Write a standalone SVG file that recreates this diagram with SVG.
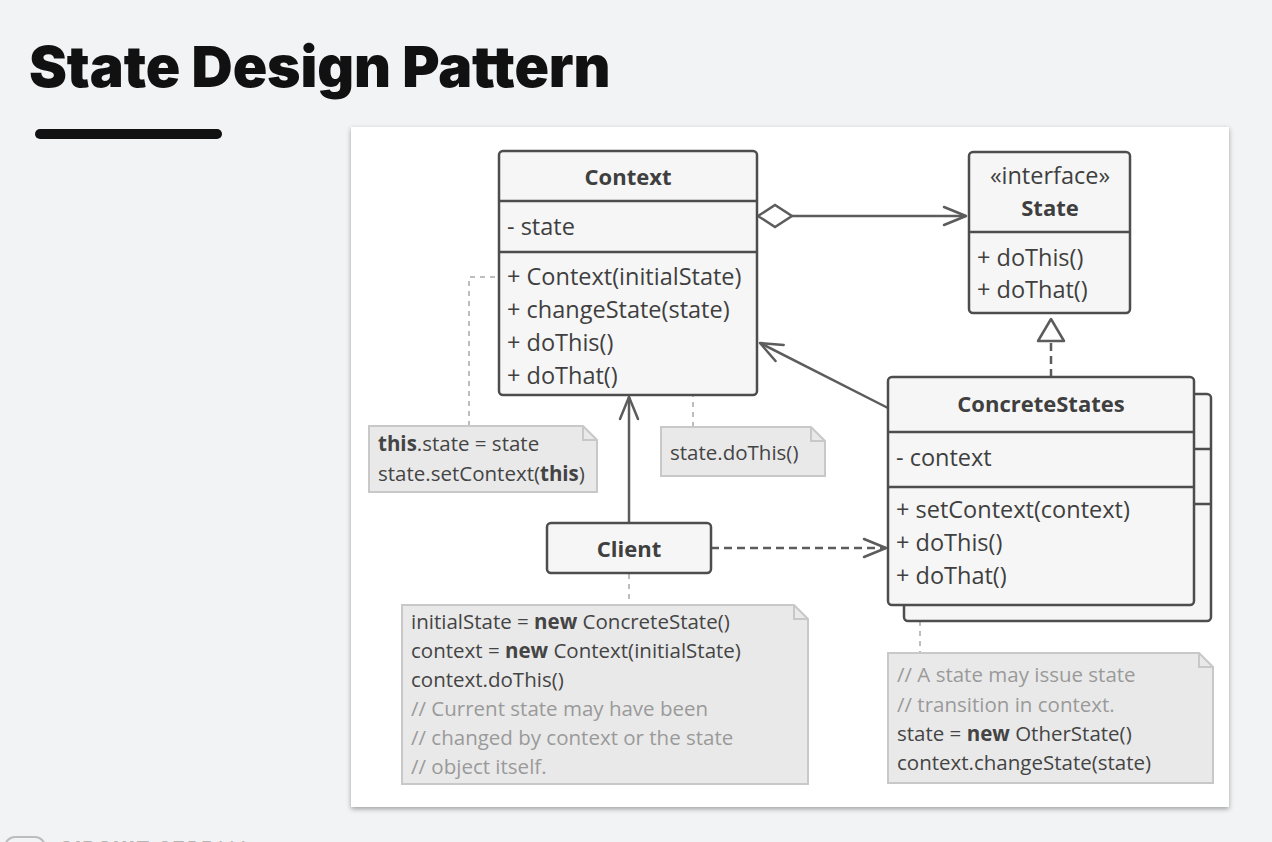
<svg xmlns="http://www.w3.org/2000/svg" width="1272" height="842" viewBox="0 0 1272 842">
<defs>
<filter id="sh" x="-5%" y="-5%" width="110%" height="110%">
<feDropShadow dx="0" dy="2" stdDeviation="2.5" flood-color="#000" flood-opacity="0.35"/>
</filter>
<marker id="open" markerUnits="userSpaceOnUse" viewBox="0 0 26 22" markerWidth="26" markerHeight="22" refX="24" refY="11" orient="auto">
<path d="M2,2 L24,11 L2,20" fill="none" stroke="#5c5c5c" stroke-width="2.5" stroke-linecap="round" stroke-linejoin="round"/>
</marker>
</defs>
<style>
.box{fill:#f6f6f6;stroke:#4d4d4d;stroke-width:2.5}
.div{stroke:#4d4d4d;stroke-width:2.5}
.t{font-family:"Open Sans","Noto Sans",sans-serif;font-size:23.5px;fill:#3f3f3f}
.b{font-weight:bold;font-size:22px}
.c{text-anchor:middle}
.note{fill:#e9e9e9;stroke:#c8c8c8;stroke-width:2}
.nt{font-family:"Open Sans","Noto Sans",sans-serif;font-size:20.5px;fill:#444}
.nb{font-weight:bold}
.cm{fill:#9a9a9a}
.conn{fill:none;stroke:#5c5c5c;stroke-width:2.5}
.dash{stroke-dasharray:8 5}
.ndash{fill:none;stroke:#bdbdbd;stroke-width:2;stroke-dasharray:5 5}
</style>
<rect width="1272" height="842" fill="#f2f3f5"/>
<text x="29" y="87" font-family="Inter,sans-serif" font-weight="900" font-size="57" letter-spacing="-0.1" fill="#111">State Design Pattern</text>
<rect x="35" y="129" width="187" height="10" rx="5" fill="#111"/>
<rect x="351" y="127" width="878" height="680" fill="#fff" filter="url(#sh)"/>
<g id="logo" fill="#b5b5b5">
<rect x="5" y="837" width="40" height="30" rx="10" fill="none" stroke="#bdbdbd" stroke-width="2"/>
<text x="59" y="855" font-family="Inter,sans-serif" font-size="19" letter-spacing="2"><tspan font-weight="800">CIRCUIT</tspan><tspan font-weight="300"> STREAM</tspan></text>
</g>

<g id="connectors">
<polygon points="758,216 775,205 792,216 775,227" fill="#fff" stroke="#5c5c5c" stroke-width="2.5"/>
<line class="conn" x1="792" y1="216" x2="966" y2="216" marker-end="url(#open)"/>
<line class="conn dash" x1="1051" y1="377" x2="1051" y2="341"/>
<polygon points="1051,319 1038,341 1064,341" fill="#fff" stroke="#5c5c5c" stroke-width="2.5" stroke-linejoin="round"/>
<line class="conn" x1="888" y1="408" x2="760" y2="343" marker-end="url(#open)"/>
<line class="conn" x1="629" y1="523" x2="629" y2="397" marker-end="url(#open)"/>
<line class="conn dash" x1="711" y1="548" x2="886" y2="548" marker-end="url(#open)"/>
<path class="ndash" d="M469,426 V277 H499"/>
<circle cx="637" cy="344" r="4" fill="none" stroke="#bdbdbd" stroke-width="2"/>
<path class="ndash" d="M641,344 H693 V427"/>
<path class="ndash" d="M629,574 V605"/>
<path class="ndash" d="M920,621 V653"/>
</g>

<g id="context">
<rect class="box" x="499" y="151" width="258" height="244" rx="4"/>
<line class="div" x1="499" y1="201" x2="757" y2="201"/>
<line class="div" x1="499" y1="252" x2="757" y2="252"/>
<text class="t b c" x="628" y="185">Context</text>
<text class="t" x="507" y="235">- state</text>
<text class="t" x="507" y="285">+ Context(initialState)</text>
<text class="t" x="507" y="318">+ changeState(state)</text>
<text class="t" x="507" y="351">+ doThis()</text>
<text class="t" x="507" y="384">+ doThat()</text>
</g>

<g id="state">
<rect class="box" x="969" y="152" width="161" height="161" rx="4"/>
<line class="div" x1="969" y1="232" x2="1130" y2="232"/>
<text class="t c" x="1050" y="184">«interface»</text>
<text class="t b c" x="1050" y="216">State</text>
<text class="t" x="977" y="266">+ doThis()</text>
<text class="t" x="977" y="298">+ doThat()</text>
</g>

<g id="concretestates">
<rect class="box" x="904" y="394" width="307" height="227" rx="4"/>
<line class="div" x1="904" y1="449" x2="1211" y2="449"/>
<line class="div" x1="904" y1="504" x2="1211" y2="504"/>
<rect class="box" x="888" y="377" width="306" height="228" rx="4"/>
<line class="div" x1="888" y1="432" x2="1194" y2="432"/>
<line class="div" x1="888" y1="487" x2="1194" y2="487"/>
<text class="t b c" x="1041" y="412">ConcreteStates</text>
<text class="t" x="896" y="466">- context</text>
<text class="t" x="896" y="518">+ setContext(context)</text>
<text class="t" x="896" y="551">+ doThis()</text>
<text class="t" x="896" y="584">+ doThat()</text>
</g>

<g id="client">
<rect class="box" x="547" y="523" width="164" height="50" rx="4"/>
<text class="t b c" x="629" y="557">Client</text>
</g>

<g id="note-context">
<path class="note" d="M369,426 H583 L597,440 V492 H369 Z"/>
<path d="M583,426 V440 H597" fill="none" stroke="#c8c8c8" stroke-width="2"/>
<text class="nt" x="378" y="451"><tspan class="nb">this</tspan>.state = state</text>
<text class="nt" x="378" y="481">state.setContext(<tspan class="nb">this</tspan>)</text>
</g>

<g id="note-dothis">
<path class="note" d="M661,427 H811 L825,441 V476 H661 Z"/>
<path d="M811,427 V441 H825" fill="none" stroke="#c8c8c8" stroke-width="2"/>
<text class="nt" x="670" y="460">state.doThis()</text>
</g>

<g id="note-client">
<path class="note" d="M402,605 H794 L808,619 V784 H402 Z"/>
<path d="M794,605 V619 H808" fill="none" stroke="#c8c8c8" stroke-width="2"/>
<text class="nt" x="411" y="629">initialState = <tspan class="nb">new</tspan> ConcreteState()</text>
<text class="nt" x="411" y="658">context = <tspan class="nb">new</tspan> Context(initialState)</text>
<text class="nt" x="411" y="687">context.doThis()</text>
<text class="nt cm" x="411" y="716">// Current state may have been</text>
<text class="nt cm" x="411" y="745">// changed by context or the state</text>
<text class="nt cm" x="411" y="774">// object itself.</text>
</g>

<g id="note-concrete">
<path class="note" d="M888,653 H1199 L1213,667 V783 H888 Z"/>
<path d="M1199,653 V667 H1213" fill="none" stroke="#c8c8c8" stroke-width="2"/>
<text class="nt cm" x="897" y="682">// A state may issue state</text>
<text class="nt cm" x="897" y="712">// transition in context.</text>
<text class="nt" x="897" y="741">state = <tspan class="nb">new</tspan> OtherState()</text>
<text class="nt" x="897" y="770">context.changeState(state)</text>
</g>
</svg>
